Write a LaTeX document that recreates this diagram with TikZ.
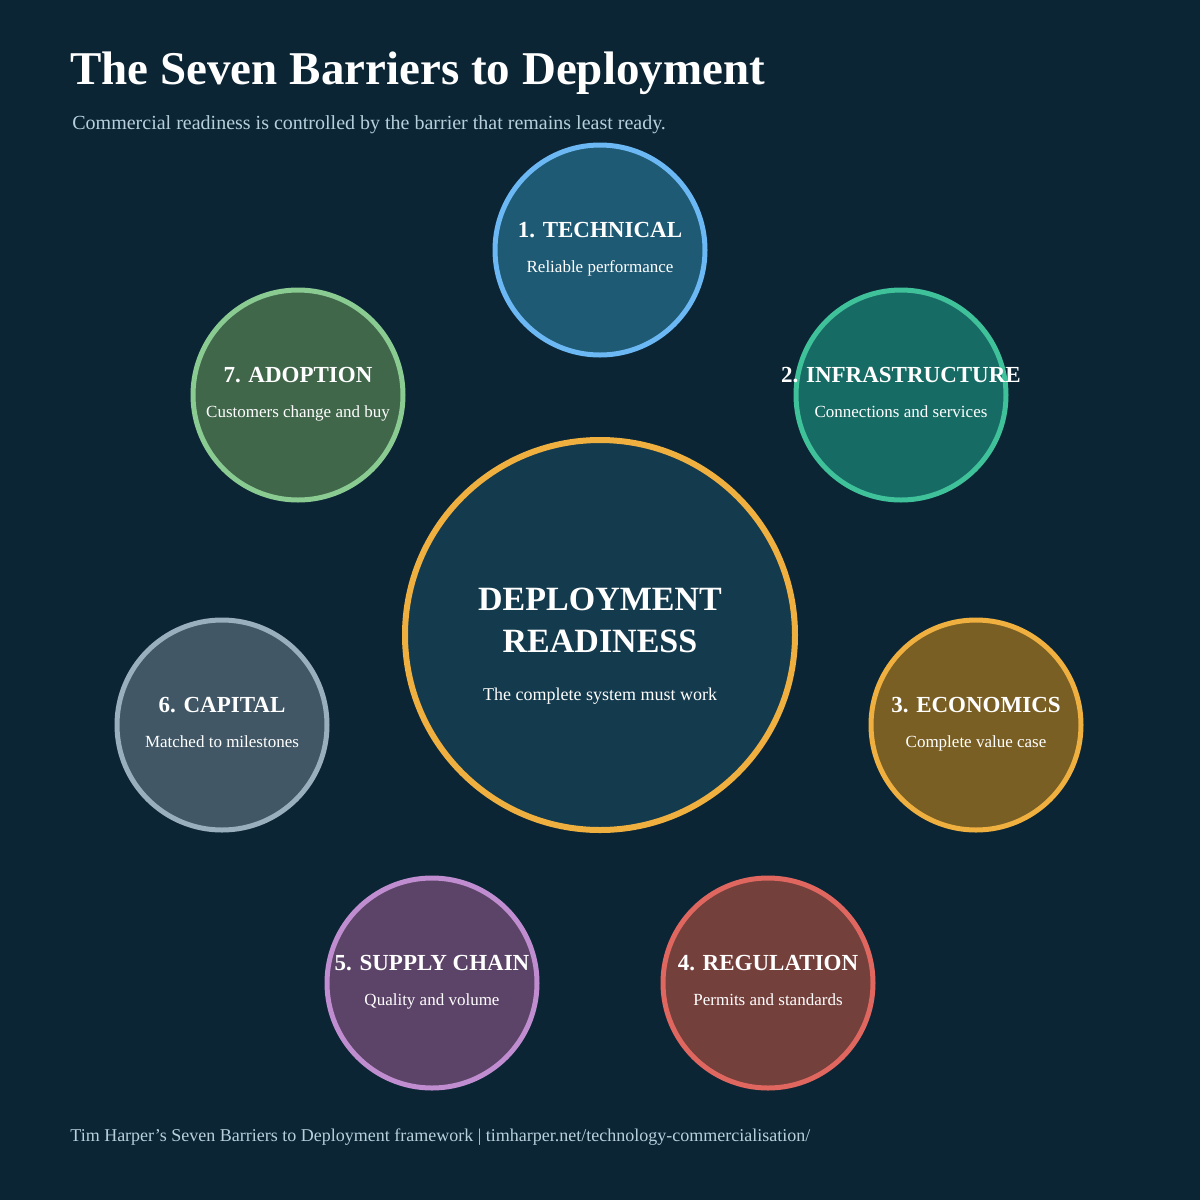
\documentclass[tikz,border=0pt]{standalone}
\usepackage{fontspec}
\setmainfont{Liberation Serif}
\definecolor{bg}{HTML}{0B2535}
\definecolor{sub}{HTML}{B8D0DC}
\definecolor{cstroke}{HTML}{F0B040}
\definecolor{cfill}{HTML}{143A4D}
\tikzset{
 barrier/.style={circle,minimum size=105pt,line width=2.5pt,inner sep=0pt},
 bt/.style={text=white,font=\bfseries\fontsize{11.5}{14}\selectfont,anchor=base},
 bs/.style={text=white,font=\fontsize{8.5}{10}\selectfont,anchor=base},
}
\begin{document}
\begin{tikzpicture}[x=0.5pt,y=-0.5pt]
\fill[bg] (0,0) rectangle (1200,1200);
\useasboundingbox (0,0) rectangle (1200,1200);
\node[anchor=base west,text=white,font=\bfseries\fontsize{23.5}{27}\selectfont,inner sep=0] (title) at (70,84) {The Seven Barriers to Deployment};
\node[anchor=base west,text=sub,font=\fontsize{10}{12}\selectfont,inner sep=0] (subtitle) at (72,129) {Commercial readiness is controlled by the barrier that remains least ready.};
\node[circle,minimum size=195pt,line width=3pt,draw=cstroke, fill=cfill] (c) at (600,635) {};
\node[text=white,font=\bfseries\fontsize{17}{21}\selectfont,align=center] (ct) at (600,620) {DEPLOYMENT\\READINESS};
\node[bs,font=\fontsize{9}{10}\selectfont] (cs) at (600,700) {The complete system must work};
\foreach \n/\x/\y/\f/\s/\t/\d in {
 b1/600/250/1F5A75/6BB8F5/1. TECHNICAL/Reliable performance,
 b2/901/395/176B65/3FC19A/2. INFRASTRUCTURE/Connections and services,
 b3/976/725/7A5F24/F0B040/3. ECONOMICS/Complete value case,
 b4/768/983/74403C/E0675F/4. REGULATION/Permits and standards,
 b5/432/983/5C4368/C08DD0/5. SUPPLY CHAIN/Quality and volume,
 b6/222/725/415766/9AAFBD/6. CAPITAL/Matched to milestones,
 b7/298/395/41674B/8ACB92/7. ADOPTION/Customers change and buy}{
 \definecolor{ff}{HTML}{\f}\definecolor{ss}{HTML}{\s}
 \node[barrier,draw=ss,fill=ff] (\n) at (\x,\y) {};
 \node[bt] (\n t) at (\x,\y-13) {\t};
 \node[bs] (\n s) at (\x,\y+22) {\d};
}
\node[anchor=base west,text=sub,font=\fontsize{9}{11}\selectfont,inner sep=0] (foot) at (70,1141) {Tim Harper\char"0027 s Seven Barriers to Deployment framework | timharper.net/technology-commercialisation/};
\end{tikzpicture}
\end{document}
